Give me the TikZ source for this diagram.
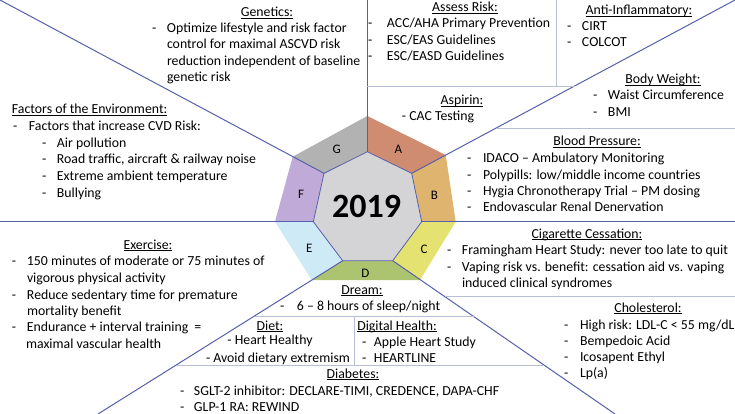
\documentclass[tikz,border=0pt]{standalone}
\usepackage{fontspec}
\setmainfont{Carlito}
\definecolor{mainln}{RGB}{88,96,170}
\definecolor{subln}{RGB}{185,190,215}
\definecolor{cA}{RGB}{208,140,112}
\definecolor{cB}{RGB}{222,180,110}
\definecolor{cC}{RGB}{228,226,112}
\definecolor{cD}{RGB}{172,196,112}
\definecolor{cE}{RGB}{206,234,246}
\definecolor{cF}{RGB}{192,170,216}
\definecolor{cG}{RGB}{178,178,178}
\definecolor{cCtr}{RGB}{212,212,214}
\newcommand\ulx[1]{\setbox0\hbox{#1}\rlap{\rule[-1.6pt]{\wd0}{0.7pt}}\box0}
\newcommand\hd[4]{\node[txt,anchor=base] (#1) at (#2,#3) {\ulx{#4}};}
\newcommand\hdl[4]{\node[txt,anchor=base west] (#1) at (#2,#3) {\ulx{#4}};}
\newcommand\tl[4]{\node[txt,anchor=base west] (#1) at (#2,#3) {#4};}
\newcommand\tc[4]{\node[txt,anchor=base] (#1) at (#2,#3) {#4};}
\newcommand\bul[5]{\node[txt,anchor=base west] (#1) at (#2,#4) {\makebox[\dimexpr #3pt-#2pt\relax][l]{-}#5};}
\begin{document}
\begin{tikzpicture}[x=1pt,y=-1pt,
  txt/.style={inner sep=0pt,outer sep=0pt,font=\fontsize{13.8}{16}\selectfont,text=black},
  lbl/.style={inner sep=0pt,font=\fontsize{13}{16}\selectfont},
  mainl/.style={draw=mainln,line width=1.0pt},
  subl/.style={draw=subln,line width=0.9pt}]
\useasboundingbox (0,0) rectangle (735,414);
\fill[white] (0,0) rectangle (735,414);
% heptagon vertices
\coordinate (O1) at (367.3,116);
\coordinate (O2) at (445.7,155);
\coordinate (O3) at (455.7,221.7);
\coordinate (O4) at (420,280);
\coordinate (O5) at (311.7,280);
\coordinate (O6) at (275,221.7);
\coordinate (O7) at (292.7,156.7);
\coordinate (I1) at (367.3,151.7);
\coordinate (I2) at (411.7,173.3);
\coordinate (I3) at (421.7,221.7);
\coordinate (I4) at (392.7,260.7);
\coordinate (I5) at (342.7,260.7);
\coordinate (I6) at (313.3,221.7);
\coordinate (I7) at (324,173.3);
\fill[cA] (O1)--(O2)--(I2)--(I1)--cycle;
\fill[cB] (O2)--(O3)--(I3)--(I2)--cycle;
\fill[cC] (O3)--(O4)--(I4)--(I3)--cycle;
\fill[cD] (O4)--(O5)--(I5)--(I4)--cycle;
\fill[cE] (O5)--(O6)--(I6)--(I5)--cycle;
\fill[cF] (O6)--(O7)--(I7)--(I6)--cycle;
\fill[cG] (O7)--(O1)--(I1)--(I7)--cycle;
\fill[cCtr] (I1)--(I2)--(I3)--(I4)--(I5)--(I6)--(I7)--cycle;
\draw[draw=mainln,line width=0.8pt] (I1)--(I2)--(I3)--(I4)--(I5)--(I6)--(I7)--cycle;
% ends of radial lines
\coordinate (E1) at (367.3,0);
\coordinate (E2) at (735,0);
\coordinate (E3) at (735,221.7);
\coordinate (E4) at (615,414);
\coordinate (E5) at (98,414);
\coordinate (E6) at (0,221.7);
\coordinate (E7) at (0,0);
\foreach \k in {1,...,7}{\draw[mainl] (I\k) -- (E\k);}
% secondary dividers
\coordinate (s1a) at (367.3,86);
\coordinate (s1b) at (574.6,86);
\draw[subl] (s1a) -- (s1b);
\coordinate (s2a) at (556.7,0);
\coordinate (s2b) at (556.7,86);
\draw[subl] (s2a) -- (s2b);
\coordinate (s3a) at (496.2,128.3);
\coordinate (s3b) at (735,128.3);
\draw[subl] (s3a) -- (s3b);
\coordinate (s4a) at (445,296.7);
\coordinate (s4b) at (735,296.7);
\draw[subl] (s4a) -- (s4b);
\coordinate (s5a) at (255.2,316.3);
\coordinate (s5b) at (473.5,316.3);
\draw[subl] (s5a) -- (s5b);
\coordinate (s6a) at (176.5,365.3);
\coordinate (s6b) at (544,365.3);
\draw[subl] (s6a) -- (s6b);
\coordinate (s7a) at (354,316.3);
\coordinate (s7b) at (354,365.3);
\draw[subl] (s7a) -- (s7b);
% heptagon labels
\node[lbl] (lA) at (398.3,149.3) {A};
\node[lbl] (lB) at (434.3,195) {B};
\node[lbl] (lC) at (424,249.3) {C};
\node[lbl] (lD) at (365.3,273.3) {D};
\node[lbl] (lE) at (309.3,248.3) {E};
\node[lbl] (lF) at (301,194.3) {F};
\node[lbl] (lG) at (336.7,149.3) {G};
\node[inner sep=0pt,font=\fontsize{34}{40}\selectfont\bfseries] (yr) at (366.7,206.7) {2019};
% Genetics
\hd{gen}{267}{17}{Genetics:}
\bul{gen1}{152}{167}{33}{Optimize lifestyle and risk factor}
\tl{gen2}{167}{49}{control for maximal ASCVD risk}
\tl{gen3}{167}{66}{reduction independent of baseline}
\tl{gen4}{167}{82}{genetic risk}
% Environment
\hdl{env}{12}{114}{Factors of the Environment:}
\bul{env1}{13}{29}{131}{Factors that increase CVD Risk:}
\bul{env2}{42}{57}{147}{Air pollution}
\bul{env3}{42}{57}{164}{Road traffic, aircraft \& railway noise}
\bul{env4}{42}{57}{180}{Extreme ambient temperature}
\bul{env5}{42}{57}{197}{Bullying}
% Assess risk
\hd{ass}{465}{12}{Assess Risk:}
\bul{ass1}{368}{387}{28}{ACC/AHA Primary Prevention}
\bul{ass2}{368}{387}{45}{ESC/EAS Guidelines}
\bul{ass3}{368}{387}{61}{ESC/EASD Guidelines}
% Anti-inflammatory
\hd{ant}{639}{15}{Anti-Inflammatory:}
\bul{ant1}{567}{582}{31}{CIRT}
\bul{ant2}{567}{582}{47}{COLCOT}
% Aspirin
\hd{asp}{462}{105}{Aspirin:}
\tc{asp1}{438}{121}{- CAC Testing}
% Body weight
\hd{bw}{663}{84}{Body Weight:}
\bul{bw1}{593}{608}{100}{Waist Circumference}
\bul{bw2}{593}{608}{117}{BMI}
% Blood pressure
\hd{bp}{597}{146}{Blood Pressure:}
\bul{bp1}{467}{483}{162}{IDACO – Ambulatory Monitoring}
\bul{bp2}{467}{483}{179}{Polypills: low/middle income countries}
\bul{bp3}{467}{483}{195}{Hygia Chronotherapy Trial – PM dosing}
\bul{bp4}{467}{483}{211}{Endovascular Renal Denervation}
% Cigarette
\hd{cig}{587}{238}{Cigarette Cessation:}
\bul{cig1}{447}{462}{254}{Framingham Heart Study: never too late to quit}
\bul{cig2}{447}{462}{271}{Vaping risk vs. benefit: cessation aid vs. vaping}
\tl{cig3}{462}{287}{induced clinical syndromes}
% Cholesterol
\hd{cho}{648}{312}{Cholesterol:}
\bul{cho1}{564}{580}{329}{High risk: LDL-C < 55 mg/dL}
\bul{cho2}{564}{580}{345}{Bempedoic Acid}
\bul{cho3}{564}{580}{361}{Icosapent Ethyl}
\bul{cho4}{564}{580}{377}{Lp(a)}
% Exercise
\hd{ex}{148}{249}{Exercise:}
\bul{ex1}{12}{27}{265}{150 minutes of moderate or 75 minutes of}
\tl{ex2}{27}{282}{vigorous physical activity}
\bul{ex3}{12}{27}{299}{Reduce sedentary time for premature}
\tl{ex4}{27}{315}{mortality benefit}
\bul{ex5}{12}{27}{331}{Endurance + interval training\ \ =}
\tl{ex6}{26}{348}{maximal vascular health}
% Dream
\hd{dr}{362}{294}{Dream:}
\bul{dr1}{280}{297}{310}{6 – 8 hours of sleep/night}
% Diet
\hd{di}{270}{330}{Diet:}
\tc{di1}{270}{344}{- Heart Healthy}
\tl{di2}{206}{362}{- Avoid dietary extremism}
% Digital health
\hdl{dh}{357.3}{330}{Digital Health:}
\bul{dh1}{362}{374}{346}{Apple Heart Study}
\bul{dh2}{362}{374}{362}{HEARTLINE}
% Diabetes
\hd{dia}{353}{378}{Diabetes:}
\bul{dia1}{180}{194}{395}{SGLT-2 inhibitor: DECLARE-TIMI, CREDENCE, DAPA-CHF}
\bul{dia2}{180}{194}{411}{GLP-1 RA: REWIND}
\end{tikzpicture}
\end{document}
